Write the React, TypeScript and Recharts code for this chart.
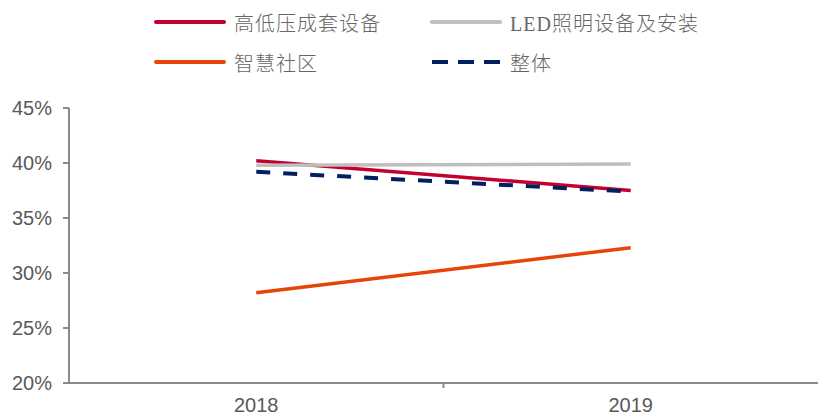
import { ComposedChart, Line, XAxis, YAxis } from 'recharts';

const years = ['2018', '2019'];
const highLowVoltage = [40.2, 37.5];
const ledLighting = [39.8, 39.9];
const smartCommunity = [28.2, 32.3];
const overall = [39.2, 37.4];
const yTicks = [20, 25, 30, 35, 40, 45];

const series = [
  { key: 'hv', name: '高低压成套设备', color: '#C4002F', dash: undefined as string | undefined, values: highLowVoltage },
  { key: 'led', name: 'LED照明设备及安装', color: '#BFBFBF', dash: undefined as string | undefined, values: ledLighting },
  { key: 'smart', name: '智慧社区', color: '#E8440A', dash: undefined as string | undefined, values: smartCommunity },
  { key: 'all', name: '整体', color: '#002060', dash: '14 13', values: overall },
];

const data = years.map((year, i) => {
  const row: Record<string, string | number> = { year };
  series.forEach((s) => {
    row[s.key] = s.values[i];
  });
  return row;
});

const W = 818;
const H = 416;
const AXIS_W = 69;
const BAND = (W - AXIS_W) / years.length;
const TEXT = '#595959';
const AXIS = '#8a8a8a';

// legend slots: [left of sample line, row center y]
const legendPos = [
  [154, 22],
  [430, 22],
  [154, 62],
  [430, 62],
];

function XTick(props: any) {
  const { x, y, payload, index } = props;
  return (
    <g>
      {index > 0 && (
        <line x1={x - BAND / 2} x2={x - BAND / 2} y1={y} y2={y + 5} stroke={AXIS} strokeWidth={2} />
      )}
      <text x={x} y={y} dy={29} textAnchor="middle" fill={TEXT} fontSize={20} fontFamily="Arial, 'Liberation Sans', sans-serif">
        {payload.value}
      </text>
    </g>
  );
}

export default function App() {
  return (
    <div style={{ position: 'absolute', left: 0, top: 0, width: W, height: H, background: '#fff', overflow: 'hidden' }}>
      {series.map((s, i) => (
        <div
          key={s.key}
          style={{
            position: 'absolute',
            left: legendPos[i][0],
            top: legendPos[i][1] - 14,
            height: 28,
            display: 'flex',
            alignItems: 'center',
            whiteSpace: 'nowrap',
          }}
        >
          <svg width={74} height={28} style={{ marginRight: 6 }}>
            <line
              x1={2}
              x2={70}
              y1={14}
              y2={14}
              stroke={s.color}
              strokeWidth={4}
              strokeLinecap={s.dash ? 'butt' : 'round'}
              strokeDasharray={s.dash ? '16 10' : undefined}
            />
          </svg>
          <span
            style={{
              fontSize: 20,
              color: '#666',
              letterSpacing: 1,
              fontFamily: "'Liberation Serif', 'Noto Sans CJK SC', serif",
              fontWeight: 300,
            }}
          >
            {s.name}
          </span>
        </div>
      ))}
      <ComposedChart width={W} height={H} data={data} margin={{ top: 108, right: 0, bottom: 0, left: 0 }}>
        <XAxis
          dataKey="year"
          height={33}
          padding={{ left: BAND / 2, right: BAND / 2 }}
          axisLine={{ stroke: AXIS, strokeWidth: 2 }}
          tickLine={false}
          tickSize={0}
          tickMargin={0}
          tick={(p: any) => <XTick {...p} />}
          interval={0}
        />
        <YAxis
          width={AXIS_W}
          domain={[20, 45]}
          ticks={yTicks}
          interval={0}
          tickFormatter={(v: number) => `${v}%`}
          axisLine={{ stroke: AXIS, strokeWidth: 2 }}
          tickLine={{ stroke: AXIS, strokeWidth: 2 }}
          tickSize={6}
          tickMargin={11}
          tick={{ fill: TEXT, fontSize: 20, fontFamily: "Arial, 'Liberation Sans', sans-serif" }}
        />
        {series.map((s) => (
          <Line
            key={s.key}
            dataKey={s.key}
            name={s.name}
            type="linear"
            stroke={s.color}
            strokeWidth={s.dash ? 4 : 3.5}
            strokeDasharray={s.dash}
            dot={false}
            activeDot={false}
            isAnimationActive={false}
          />
        ))}
      </ComposedChart>
    </div>
  );
}
